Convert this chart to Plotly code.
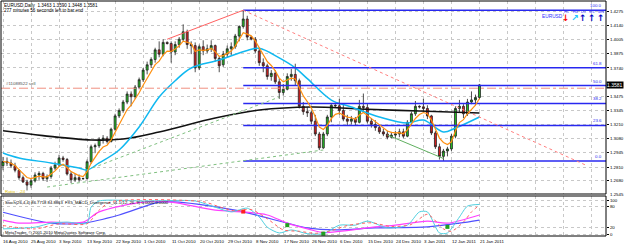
import plotly.graph_objects as go

# ---------------- data ----------------
opens = [1.2822,1.2862,1.2848,1.2822,1.2780,1.2710,1.2670,1.2640,1.2680,1.2735,
         1.2750,1.2700,1.2720,1.2800,1.2830,1.2895,1.2880,1.2745,1.2690,1.2710,
         1.2700,1.2702,1.2860,1.3000,1.3010,1.3070,1.3080,1.3050,1.3165,1.3290,
         1.3340,1.3420,1.3495,1.3470,1.3560,1.3630,1.3720,1.3770,1.3820,1.3910,
         1.3870,1.3980,1.3970,1.3890,1.3960,1.4010,1.4080,1.3960,1.3950,1.3740,
         1.3940,1.3900,1.3920,1.3950,1.3830,1.3770,1.3870,1.3920,1.3940,1.4040,
         1.4130,1.4200,1.4030,1.4010,1.3900,1.3790,1.3760,1.3660,1.3690,1.3610,
         1.3510,1.3540,1.3660,1.3680,1.3620,1.3380,1.3330,1.3320,1.3240,1.3120,
         1.2990,1.3120,1.3280,1.3390,1.3385,1.3340,1.3260,1.3240,1.3260,1.3230,
         1.3380,1.3370,1.3240,1.3210,1.3180,1.3140,1.3120,1.3090,1.3110,1.3120,
         1.3140,1.3100,1.3230,1.3310,1.3380,1.3375,1.3360,1.3290,1.3130,1.3000,
         1.2910,1.2960,1.2980,1.3100,1.3360,1.3380,1.3310,1.3420,1.3440,1.3463]
highs = [1.2905,1.2900,1.2880,1.2850,1.2790,1.2730,1.2690,1.2700,1.2760,1.2770,
         1.2765,1.2740,1.2820,1.2860,1.2925,1.2915,1.2895,1.2770,1.2745,1.2740,
         1.2710,1.2880,1.3020,1.3030,1.3090,1.3110,1.3100,1.3180,1.3310,1.3360,
         1.3440,1.3520,1.3520,1.3580,1.3650,1.3740,1.3800,1.3840,1.3930,1.3990,
         1.4010,1.3990,1.3990,1.3990,1.4030,1.4150,1.4100,1.3990,1.3980,1.3960,
         1.4000,1.3960,1.4000,1.3960,1.3850,1.3900,1.3950,1.3980,1.4060,1.4140,
         1.4282,1.4230,1.4040,1.4030,1.3930,1.3830,1.3780,1.3720,1.3720,1.3640,
         1.3590,1.3690,1.3730,1.3780,1.3640,1.3420,1.3370,1.3340,1.3300,1.3140,
         1.3140,1.3300,1.3400,1.3400,1.3450,1.3400,1.3300,1.3290,1.3280,1.3440,
         1.3500,1.3400,1.3270,1.3250,1.3200,1.3170,1.3150,1.3140,1.3150,1.3170,
         1.3170,1.3250,1.3330,1.3430,1.3390,1.3450,1.3390,1.3300,1.3150,1.3030,
         1.2980,1.3000,1.3120,1.3380,1.3440,1.3400,1.3450,1.3520,1.3490,1.3590]
lows = [1.2780,1.2820,1.2800,1.2760,1.2690,1.2660,1.2590,1.2615,1.2665,1.2690,
        1.2680,1.2670,1.2700,1.2780,1.2810,1.2860,1.2730,1.2660,1.2670,1.2670,
        1.2690,1.2690,1.2840,1.2940,1.2990,1.3030,1.3030,1.3040,1.3150,1.3270,
        1.3320,1.3400,1.3380,1.3450,1.3540,1.3610,1.3680,1.3740,1.3790,1.3840,
        1.3850,1.3960,1.3790,1.3860,1.3930,1.3990,1.3920,1.3870,1.3700,1.3720,
        1.3860,1.3880,1.3890,1.3800,1.3700,1.3750,1.3840,1.3860,1.3920,1.3990,
        1.4110,1.4000,1.4000,1.3880,1.3760,1.3700,1.3630,1.3620,1.3590,1.3450,
        1.3480,1.3530,1.3620,1.3580,1.3360,1.3300,1.3280,1.3210,1.3100,1.2969,
        1.2980,1.3100,1.3230,1.3370,1.3300,1.3240,1.3200,1.3210,1.3200,1.3220,
        1.3340,1.3220,1.3180,1.3150,1.3120,1.3100,1.3070,1.3080,1.3080,1.3090,
        1.3080,1.3090,1.3200,1.3290,1.3360,1.3330,1.3260,1.3110,1.2980,1.2880,
        1.2867,1.2910,1.2960,1.3080,1.3320,1.3270,1.3290,1.3400,1.3390,1.3448]
closes = [1.2862,1.2848,1.2822,1.2780,1.2710,1.2670,1.2640,1.2680,1.2735,1.2750,
          1.2700,1.2720,1.2800,1.2830,1.2895,1.2880,1.2745,1.2690,1.2710,1.2690,
          1.2702,1.2860,1.3000,1.3010,1.3070,1.3080,1.3050,1.3165,1.3290,1.3340,
          1.3420,1.3495,1.3470,1.3560,1.3630,1.3720,1.3770,1.3820,1.3910,1.3870,
          1.3980,1.3970,1.3890,1.3960,1.4010,1.4080,1.3960,1.3950,1.3740,1.3940,
          1.3900,1.3920,1.3950,1.3830,1.3760,1.3870,1.3920,1.3940,1.4040,1.4130,
          1.4200,1.4030,1.4010,1.3900,1.3790,1.3760,1.3660,1.3690,1.3610,1.3510,
          1.3540,1.3660,1.3680,1.3620,1.3380,1.3330,1.3320,1.3240,1.3120,1.2990,
          1.3120,1.3280,1.3390,1.3385,1.3340,1.3260,1.3240,1.3260,1.3230,1.3380,
          1.3370,1.3240,1.3210,1.3180,1.3140,1.3120,1.3090,1.3110,1.3120,1.3140,
          1.3100,1.3230,1.3310,1.3380,1.3375,1.3360,1.3290,1.3130,1.3000,1.2910,
          1.2960,1.2980,1.3100,1.3360,1.3380,1.3310,1.3420,1.3440,1.3463,1.3581]
bars = list(range(len(closes)))

date_labels = ["16 Aug 2010", "25 Aug 2010", "3 Sep 2010", "13 Sep 2010", "22 Sep 2010",
               "1 Oct 2010", "11 Oct 2010", "20 Oct 2010", "29 Oct 2010", "8 Nov 2010",
               "17 Nov 2010", "26 Nov 2010", "6 Dec 2010", "15 Dec 2010", "24 Dec 2010",
               "3 Jan 2011", "12 Jan 2011", "21 Jan 2011"]
date_bars = [0, 7, 14, 21, 28, 35, 42, 49, 56, 63, 70, 77, 84, 91, 98, 105, 112, 119]
grid_bars = list(range(0, 148, 7))

price_ticks = [1.4275, 1.4140, 1.4005, 1.3875, 1.3740, 1.3475, 1.3345,
               1.3210, 1.3080, 1.2945, 1.2810, 1.2680]
last_price = 1.3581

# moving averages (sample bars)
cyan_ma_bars = [0, 4, 12, 19, 21, 24, 29, 34, 39, 43, 47, 54, 61, 64, 69, 73, 76, 82, 87, 94, 101, 105, 110, 113, 119]
cyan_ma = [1.2942, 1.2895, 1.2848, 1.2801, 1.2782, 1.2848, 1.2970, 1.3186, 1.3467, 1.3620, 1.3740, 1.3815,
           1.3905, 1.3925, 1.3834, 1.3740, 1.3640, 1.3439, 1.3374, 1.3280, 1.3223, 1.3251, 1.3139, 1.3176, 1.3280]
black_ma_bars = [0, 10, 22, 30, 39, 53, 64, 77, 89, 104, 119]
black_ma = [1.3150, 1.3105, 1.3064, 1.3073, 1.3139, 1.3270, 1.3345, 1.3374, 1.3355, 1.3336, 1.3317]

# Fibonacci retracement
fib_high, fib_low, fib_start = 1.4282, 1.2867, 60
fib_levels = [100.0, 61.8, 50.0, 38.2, 23.6, 0.0]

# trend lines (bar, price)
red_solid = ([41, 60], [1.4010, 1.4282])
red_dot = ([60, 146], [1.4282, 1.2820])
green_dot1 = ([21, 69], [1.2782, 1.3467])
green_dot2 = ([11, 80], [1.2622, 1.2970])
green_solid = ([96, 110], [1.3111, 1.2890])
sell_price = 1.3550

# stochastic pane (sample bars)
stoch_blue_bars = [0, 12, 20, 29, 39, 44, 58, 71, 76, 83, 93, 106, 114, 119]
stoch_blue = [64, 32, 32, 56, 94, 94, 70, 32, 18, 12, 18, 21, 32, 41]
stoch_mag_bars = [0, 4, 12, 20, 24, 35, 42, 53, 60, 66, 71, 77, 80, 93, 98, 106, 111, 119]
stoch_mag = [41, 32, 35, 35, 65, 94, 94, 70, 65, 56, 32, 12, 4, 21, 26, 38, 32, 56]
stoch_k_bars = [0, 8, 12, 16, 21, 22, 24, 35, 48, 53, 57, 61, 64, 66, 69, 72, 76, 80, 84, 88,
                91, 96, 101, 104, 106, 109, 111, 114, 116, 119]
stoch_k = [15, 20, 32, 35, 32, 79, 97, 97, 97, 79, 65, 76, 50, 20, 3, 12, 1, 1, 26, 26,
           38, 18, 26, 65, 65, 3, 3, 50, 82, 87]
stoch_d_bars = [0, 8, 14, 21, 24, 27, 50, 54, 58, 62, 66, 70, 74, 78, 82, 86, 92, 97, 102,
                106, 110, 112, 115, 117, 119]
stoch_d = [25, 15, 30, 30, 70, 95, 95, 80, 68, 72, 45, 12, 8, 2, 10, 25, 33, 22, 28,
           58, 15, 8, 35, 65, 85]
div_bars = [60, 71, 80, 111]
div_vals = [66, 26, 1, 21]
div_colors = ["#FF2020", "#20A020", "#20A020", "#20A020"]

# ---------------- geometry ----------------
W, H = 625, 244
ML, MR, MT, MB = 1, 17, 1, 8
PW, PH = W - ML - MR, H - MT - MB
X_RANGE = [-0.5, 150.6]
MAIN_RANGE = [1.25566, 1.43689]
STOCH_RANGE = [-5.88, 111.8]
MAIN_DOM = [(236 - 194) / PH, 1.0]
STOCH_DOM = [0.0, (236 - 196) / PH]


def px(x):
    return (x - ML) / PW


def py(y):
    return (236 - y) / PH


FONT = "Liberation Sans"
SMALL = 4.4

# EMA(5) of closes (orange line)
ema = [closes[0]]
for c in closes[1:]:
    ema.append(ema[-1] + (c - ema[-1]) * 2 / 6)

fig = go.Figure()

# main pane lines
fig.add_trace(go.Scatter(x=black_ma_bars, y=black_ma, mode="lines", line=dict(color="#111111", width=1.6, shape="spline"), hoverinfo="skip"))
fig.add_trace(go.Scatter(x=cyan_ma_bars, y=cyan_ma, mode="lines", line=dict(color="#10B8F0", width=1.5, shape="spline"), hoverinfo="skip"))

for lv in fib_levels:
    p = fib_low + (fib_high - fib_low) * lv / 100
    fig.add_trace(go.Scatter(x=[fib_start, X_RANGE[1]], y=[p, p], mode="lines",
                             line=dict(color="#2828F0", width=1.5), hoverinfo="skip"))

fig.add_trace(go.Scatter(x=[X_RANGE[0], X_RANGE[1]], y=[sell_price, sell_price], mode="lines",
                         line=dict(color="#F09080", width=1, dash="dashdot"), hoverinfo="skip"))
fig.add_trace(go.Scatter(x=red_solid[0], y=red_solid[1], mode="lines", line=dict(color="#FF6060", width=1), hoverinfo="skip"))
fig.add_trace(go.Scatter(x=red_dot[0], y=red_dot[1], mode="lines", line=dict(color="#FF8080", width=1, dash="dot"), hoverinfo="skip"))
fig.add_trace(go.Scatter(x=green_dot1[0], y=green_dot1[1], mode="lines", line=dict(color="#80C080", width=1, dash="dot"), hoverinfo="skip"))
fig.add_trace(go.Scatter(x=green_dot2[0], y=green_dot2[1], mode="lines", line=dict(color="#80C080", width=1, dash="dot"), hoverinfo="skip"))
fig.add_trace(go.Scatter(x=green_solid[0], y=green_solid[1], mode="lines", line=dict(color="#60B060", width=1), hoverinfo="skip"))

fig.add_trace(go.Candlestick(x=bars, open=opens, high=highs, low=lows, close=closes,
                             increasing=dict(line=dict(color="#222222", width=0.8), fillcolor="#22C022"),
                             decreasing=dict(line=dict(color="#222222", width=0.8), fillcolor="#E02020"),
                             whiskerwidth=0, hoverinfo="skip"))
fig.add_trace(go.Scatter(x=bars, y=ema, mode="lines", line=dict(color="#FF9010", width=1.2), hoverinfo="skip"))

# stochastic pane
fig.add_trace(go.Scatter(x=stoch_blue_bars, y=stoch_blue, yaxis="y2", mode="lines", line=dict(color="#5050FF", width=1.2, shape="spline", smoothing=0.8), hoverinfo="skip"))
fig.add_trace(go.Scatter(x=stoch_mag_bars, y=stoch_mag, yaxis="y2", mode="lines", line=dict(color="#FF40FF", width=1.2, shape="spline", smoothing=0.8), hoverinfo="skip"))
fig.add_trace(go.Scatter(x=stoch_k_bars, y=stoch_k, yaxis="y2", mode="lines", line=dict(color="#50D0E0", width=1, shape="spline", smoothing=0.7), hoverinfo="skip"))
fig.add_trace(go.Scatter(x=stoch_d_bars, y=stoch_d, yaxis="y2", mode="lines", line=dict(color="#FF6060", width=1, dash="dot", shape="spline", smoothing=0.7), hoverinfo="skip"))
fig.add_trace(go.Scatter(x=div_bars, y=div_vals, yaxis="y2", mode="markers", marker=dict(color=div_colors, size=4, symbol="square"), hoverinfo="skip"))

ann = []
# date labels
for b, t in zip(date_bars, date_labels):
    ann.append(dict(x=b - 0.4, y=py(237), xref="x", yref="paper", text=t, showarrow=False,
                    xanchor="left", yanchor="top", font=dict(family=FONT, size=SMALL, color="#000000")))
# price box
ann.append(dict(x=1.0, y=last_price, xref="paper", yref="y", text="1.3581", showarrow=False, xanchor="left",
                yanchor="middle", bgcolor="#000000", font=dict(family=FONT, size=5, color="#FFFFFF"), borderpad=0))
ann.append(dict(x=1.0, y=py(194), xref="paper", yref="paper", text="1.2545", showarrow=False, xanchor="left",
                yanchor="middle", xshift=2, font=dict(family=FONT, size=SMALL, color="#000000")))
# fib labels
for lv in fib_levels:
    p = fib_low + (fib_high - fib_low) * lv / 100
    ann.append(dict(x=px(606), y=p, xref="paper", yref="y", text=f"{lv:.1f}", showarrow=False, xanchor="right",
                    yanchor="bottom", font=dict(family=FONT, size=SMALL, color="#2828F0")))
# texts
ann.append(dict(x=px(2), y=py(5), xref="paper", yref="paper", text="EURUSD,Daily  1.3463 1.3590 1.3448 1.3581",
                showarrow=False, xanchor="left", yanchor="middle", font=dict(family=FONT, size=4.6, color="#000000")))
ann.append(dict(x=px(2), y=py(10.5), xref="paper", yref="paper", text="277 minutes 56 seconds left to bar end",
                showarrow=False, xanchor="left", yanchor="middle", font=dict(family=FONT, size=4.6, color="#000000")))
ann.append(dict(x=px(4), y=py(84), xref="paper", yref="paper", text="#11088522 sell",
                showarrow=False, xanchor="left", yanchor="middle", font=dict(family=FONT, size=SMALL, color="#505050")))
ann.append(dict(x=px(3), y=py(191), xref="paper", yref="paper", text="Ratio : -24",
                showarrow=False, xanchor="left", yanchor="middle", font=dict(family=FONT, size=SMALL, color="#E0C000")))
ann.append(dict(x=px(3), y=py(202), xref="paper", yref="paper",
                text="Stoch(26,4,4) 86.7718 84.8863  FX5_MACD_Divergence_v1.1(12, 26, 9) 0.0000 0.0000",
                showarrow=False, xanchor="left", yanchor="middle", font=dict(family=FONT, size=4.2, color="#000000")))
ann.append(dict(x=px(3), y=py(232), xref="paper", yref="paper", text="MetaTrader, © 2001-2010 MetaQuotes Software Corp.",
                showarrow=False, xanchor="left", yanchor="middle", font=dict(family=FONT, size=4.2, color="#000000")))
ann.append(dict(x=px(554), y=py(17), xref="paper", yref="paper", text="EURUSD",
                showarrow=False, xanchor="center", yanchor="middle", font=dict(family=FONT, size=4.8, color="#3030FF")))
tf_labels = ["H1", "H4", "D1", "W1", "MN"]
tf_x = [568, 577, 585, 594, 603]
tf_arrows = ["↓", "↗", "↑", "↑", "↑"]
tf_colors = ["#FF0000", "#20C8FF", "#0000C0", "#0000C0", "#0000C0"]
for lab, xx, ar, col in zip(tf_labels, tf_x, tf_arrows, tf_colors):
    ann.append(dict(x=px(xx), y=py(11.5), xref="paper", yref="paper", text=lab, showarrow=False,
                    xanchor="center", yanchor="middle", font=dict(family=FONT, size=3.8, color="#3030FF")))
    ann.append(dict(x=px(xx), y=py(18), xref="paper", yref="paper", text=f"<b>{ar}</b>", showarrow=False,
                    xanchor="center", yanchor="middle", font=dict(family="DejaVu Sans", size=9, color=col)))

shapes = [
    dict(type="rect", xref="paper", yref="paper", x0=0, x1=1, y0=MAIN_DOM[0], y1=1, line=dict(color="#000000", width=1)),
    dict(type="rect", xref="paper", yref="paper", x0=0, x1=1, y0=0, y1=STOCH_DOM[1], line=dict(color="#000000", width=1)),
]

fig.update_layout(
    width=W, height=H, margin=dict(l=ML, r=MR, t=MT, b=MB),
    paper_bgcolor="#FFFFFF", plot_bgcolor="#FFFFFF", showlegend=False,
    font=dict(family=FONT, size=5, color="#000000"),
    xaxis=dict(range=X_RANGE, tickvals=grid_bars, showticklabels=False, showgrid=True, gridcolor="#C8C8C8",
               griddash="dot", gridwidth=1, zeroline=False, rangeslider=dict(visible=False), anchor="y2",
               fixedrange=True),
    yaxis=dict(domain=MAIN_DOM, range=MAIN_RANGE, side="right", tickvals=price_ticks,
               ticktext=[f"{v:.4f}" for v in price_ticks], tickfont=dict(family=FONT, size=SMALL),
               showgrid=True, gridcolor="#C8C8C8", griddash="dot", zeroline=False, ticks="outside",
               ticklen=2, tickcolor="#000000", anchor="x"),
    yaxis2=dict(domain=STOCH_DOM, range=STOCH_RANGE, side="right", tickvals=[0, 20, 80, 100],
                tickfont=dict(family=FONT, size=SMALL), showgrid=True, gridcolor="#C8C8C8", griddash="dot",
                zeroline=False, ticks="outside", ticklen=2, tickcolor="#000000", anchor="x"),
    annotations=ann, shapes=shapes,
)

fig.write_html("out.html")
